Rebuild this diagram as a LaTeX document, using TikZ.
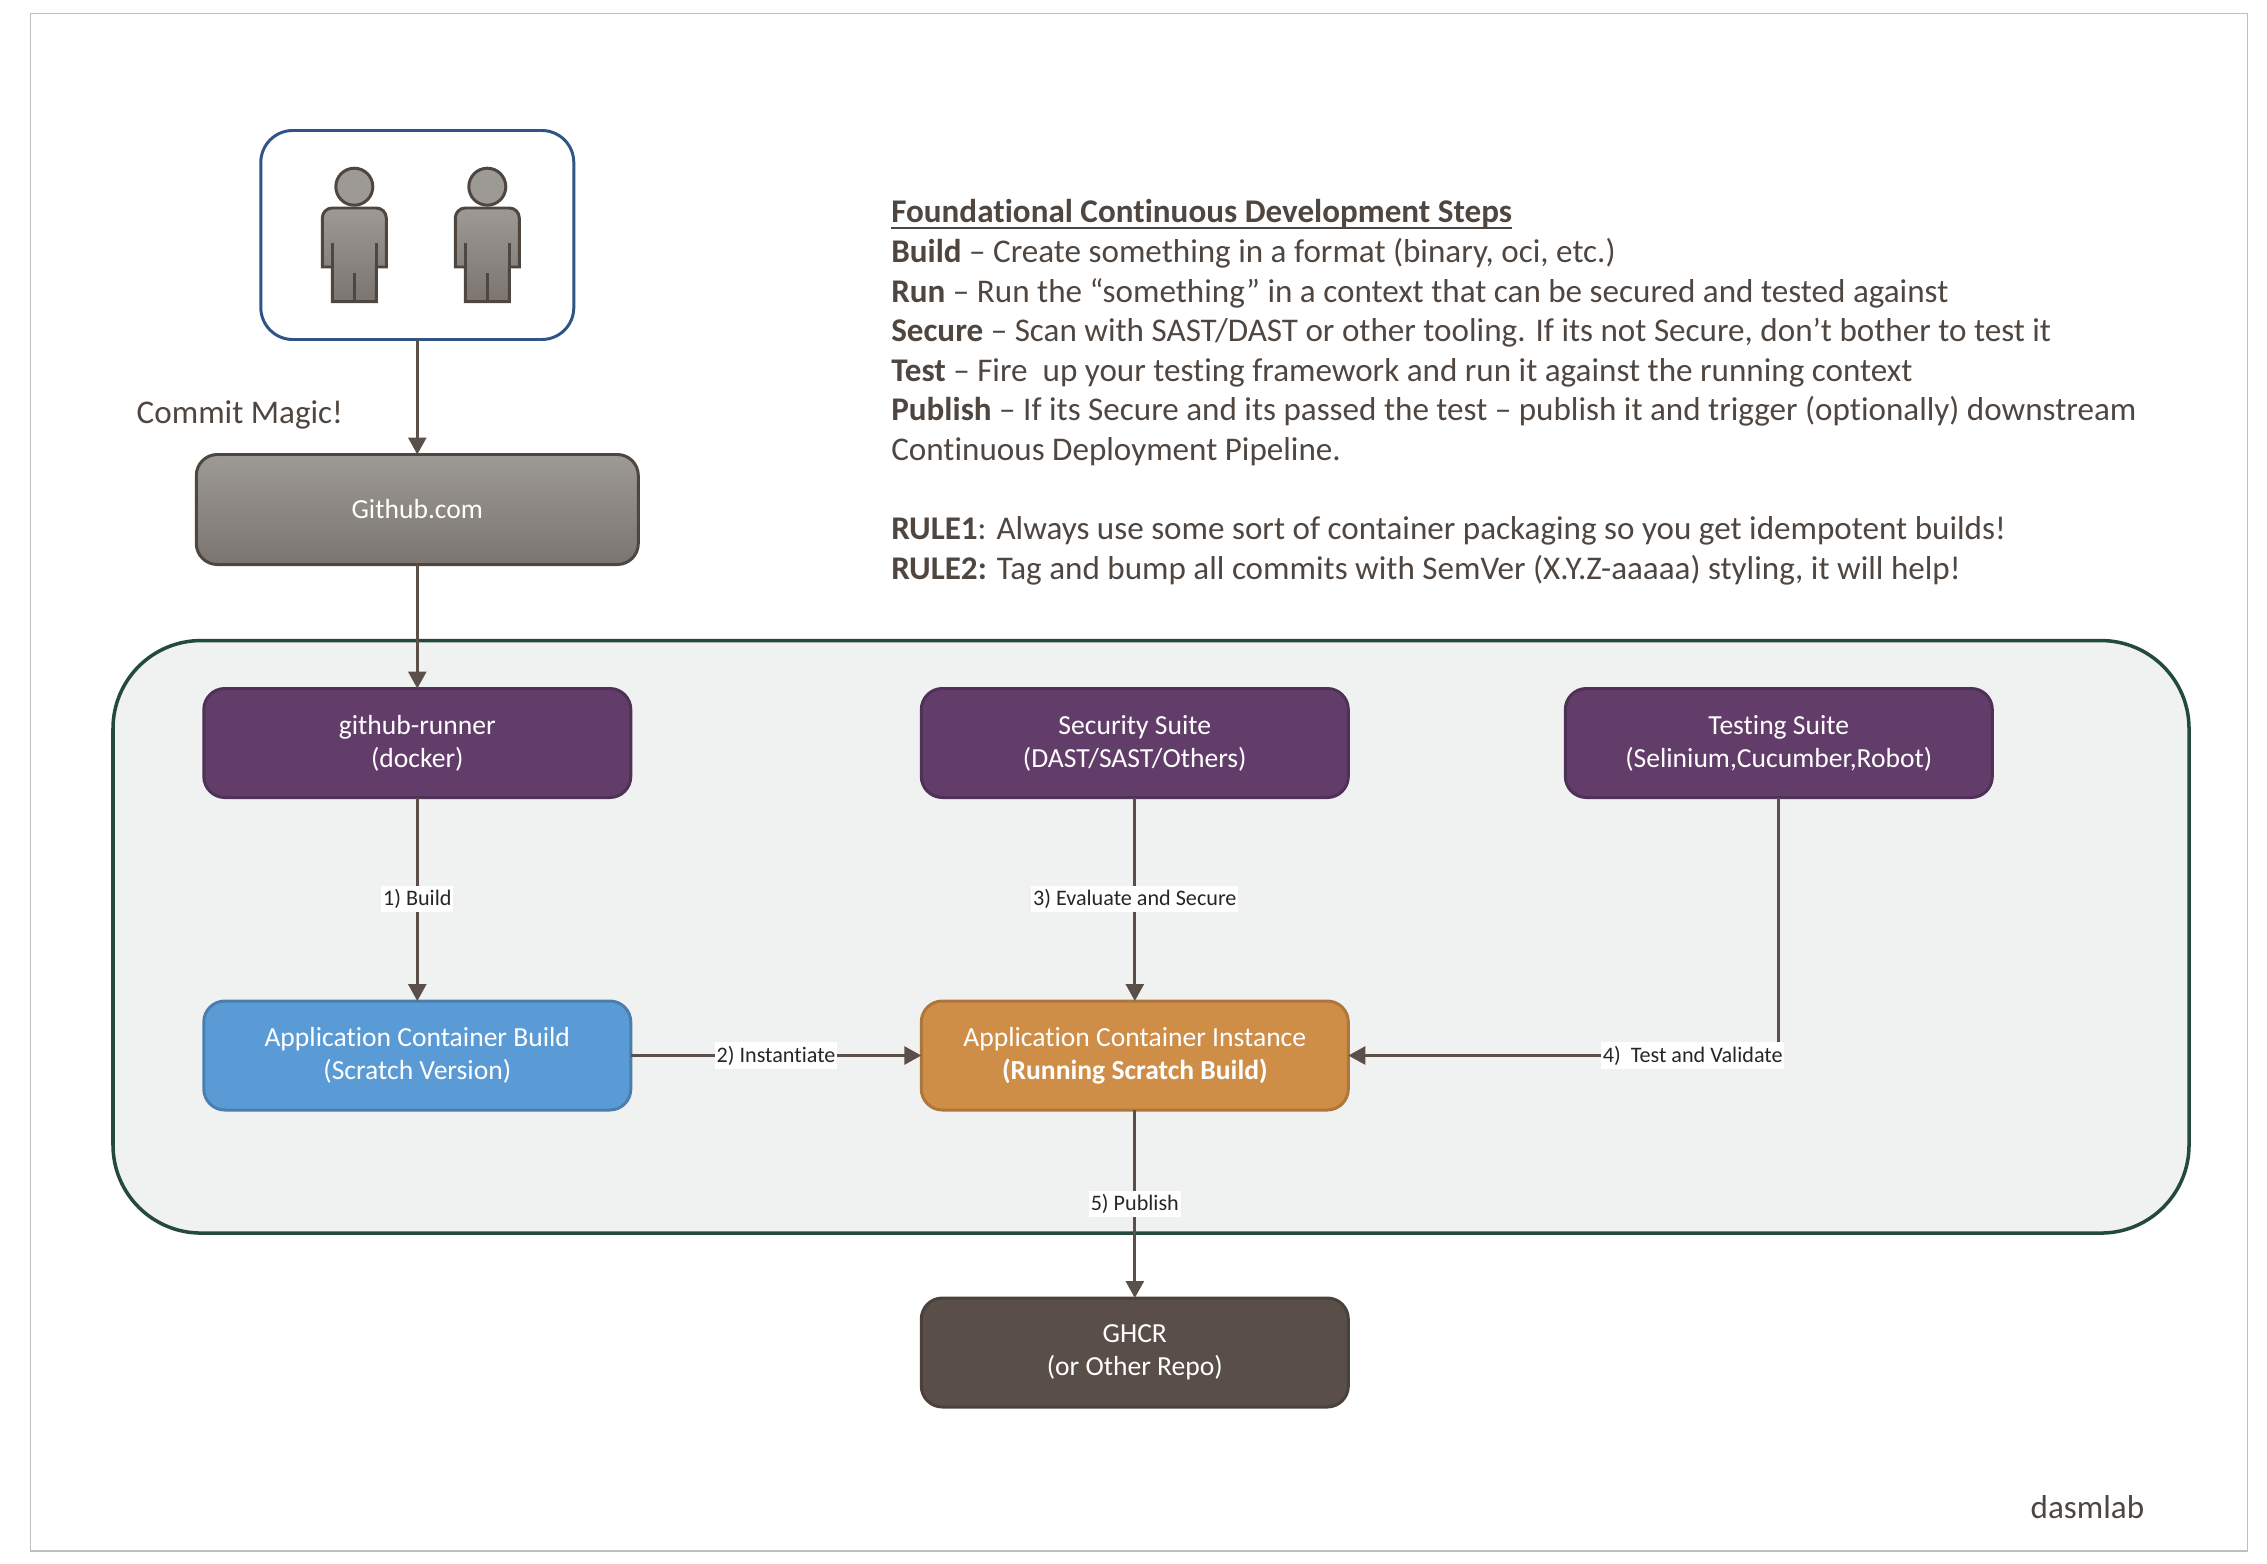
\documentclass[tikz,border=0pt]{standalone}
\usepackage{xcolor}
\usepackage{fontspec}
\setmainfont[Ligatures={TeX,NoCommon}]{Carlito}
\usepackage{tikz}
\usetikzlibrary{arrows.meta, positioning, backgrounds}
\definecolor{framecolor}{HTML}{BFBFBF}
\definecolor{usercolor}{HTML}{2F5587}
\definecolor{inkcolor}{HTML}{4F4640}
\definecolor{linecolor}{HTML}{5A4F49}
\definecolor{greytop}{HTML}{9D9994}
\definecolor{greybot}{HTML}{7A7570}
\definecolor{zonecolor}{HTML}{F0F2F1}
\definecolor{zoneedge}{HTML}{244A40}
\definecolor{runnercolor}{HTML}{623D6A}
\definecolor{runneredge}{HTML}{4F3157}
\definecolor{buildcolor}{HTML}{5B9BD5}
\definecolor{buildedge}{HTML}{4A7EB0}
\definecolor{instcolor}{HTML}{CE8E47}
\definecolor{instedge}{HTML}{AE7639}
\definecolor{ghcrcolor}{HTML}{5A4F48}
\definecolor{ghcredge}{HTML}{4A413B}

\begin{document}
\begin{tikzpicture}[
    box/.style={draw, rounded corners=0.21cm, line width=0.85pt, outer sep=0pt,
                minimum width=4.27cm, minimum height=1.09cm, align=center,
                text=white, font=\fontsize{7.85}{9.4}\selectfont},
    arr/.style={-{Triangle[length=1.7mm, width=1.8mm]}, line width=0.8pt, draw=linecolor},
    lbl/.style={fill=white, inner xsep=0.5pt, inner ysep=1pt, text=black!85,
                font=\fontsize{6.3}{7.6}\selectfont},
    note/.style={text=inkcolor, inner sep=0pt, font=\fontsize{9.42}{11.27}\selectfont},
    person/.pic={
        \fill[greytop, draw=inkcolor, line width=0.85pt] (0,0) circle (0.185);
        \draw[top color=greytop, bottom color=greybot, draw=inkcolor, line width=0.85pt]
            (-0.32,-0.803) [rounded corners=0.1cm] -- (-0.32,-0.213) -- (0.32,-0.213)
            [sharp corners] -- (0.32,-0.803) -- (0.22,-0.803) -- (0.22,-1.15)
            -- (-0.22,-1.15) -- (-0.22,-0.803) -- cycle;
        \draw[inkcolor, line width=0.85pt] (-0.22,-0.803) -- (-0.22,-0.563)
            (0.22,-0.803) -- (0.22,-0.563) (0,-1.15) -- (0,-0.863);
    }
]
    \useasboundingbox (0,0) rectangle (22.67,15.63);

    % Page frame
    \node[draw=framecolor, line width=0.45pt, minimum width=22.17cm, minimum height=15.375cm,
          outer sep=0pt] (page) at (11.39,7.8075) {};

    % Developers
    \node[draw=usercolor, line width=0.85pt, rounded corners=0.32cm, outer sep=0pt,
          minimum width=3.13cm, minimum height=2.09cm] (users) at (4.173,13.28) {};
    \pic at (3.543,13.763) {person};
    \pic at (4.873,13.763) {person};

    % Github
    \node[box, top color=greytop, bottom color=greybot, draw=inkcolor, minimum width=4.42cm,
          minimum height=1.10cm, below=1.15cm of users] (github) {Github.com};

    % Runner
    \node[box, fill=runnercolor, draw=runneredge, below=1.24cm of github]
         (runner) {github-runner\\(docker)};

    % Application container build
    \node[box, fill=buildcolor, draw=buildedge, below=2.035cm of runner]
         (appbuild) {Application Container Build\\(Scratch Version)};

    % Application container instance
    \node[box, fill=instcolor, draw=instedge, right=2.905cm of appbuild]
         (appinst) {Application Container Instance\\\textbf{(Running Scratch Build)}};

    % Security suite
    \node[box, fill=runnercolor, draw=runneredge, above=2.035cm of appinst]
         (security) {Security Suite\\(DAST/SAST/Others)};

    % Testing suite
    \node[box, fill=runnercolor, draw=runneredge, right=2.17cm of security]
         (testing) {Testing Suite\\(Selinium,Cucumber,Robot)};

    % Registry
    \node[box, fill=ghcrcolor, draw=ghcredge, below=1.88cm of appinst]
         (ghcr) {GHCR\\(or Other Repo)};

    % Text
    \node[note, anchor=west] (commit) at (1.36,11.48) {Commit Magic!};
    \node[note, anchor=north west, align=left] (steps) at (8.906,13.64) {%
        \underline{\raisebox{0pt}[\height][0pt]{\textbf{Foundational Continuous Development Steps}}}\\
        \textbf{Build} -- Create something in a format (binary, oci, etc.)\\
        \textbf{Run} -- Run the “something” in a context that can be secured and tested against\\
        \textbf{Secure} -- Scan with SAST/DAST or other tooling. If its not Secure, don’t bother to test it\\
        \textbf{Test} -- Fire\ \ up your testing framework and run it against the running context\\
        \textbf{Publish} -- If its Secure and its passed the test -- publish it and trigger (optionally) downstream\\
        Continuous Deployment Pipeline.\\[11.27pt]
        \textbf{RULE1}: Always use some sort of container packaging so you get idempotent builds!\\
        \textbf{RULE2:} Tag and bump all commits with SemVer (X.Y.Z-aaaaa) styling, it will help!};
    \node[note, anchor=west] (owner) at (20.30,0.56) {dasmlab};

    % Arrows
    \draw[arr] (users) -- (github);
    \draw[arr] (github) -- (runner);
    \draw[arr] (runner) -- node[lbl] {1) Build} (appbuild);
    \draw[arr] (appbuild) -- node[lbl] {2) Instantiate} (appinst);
    \draw[arr] (security) -- node[lbl] {3) Evaluate and Secure} (appinst);
    \draw[arr] (testing) |- node[lbl, pos=0.6] {4)\ \ Test and Validate} (appinst);
    \draw[arr] (appinst) -- node[lbl] {5) Publish} (ghcr);

    % Surrounding zone
    \begin{scope}[on background layer]
        \node[draw=zoneedge, fill=zonecolor, line width=1pt, rounded corners=0.88cm,
              outer sep=0pt, minimum width=20.76cm, minimum height=5.925cm]
             (zone) at (11.51,6.262) {};
    \end{scope}
\end{tikzpicture}
\end{document}
